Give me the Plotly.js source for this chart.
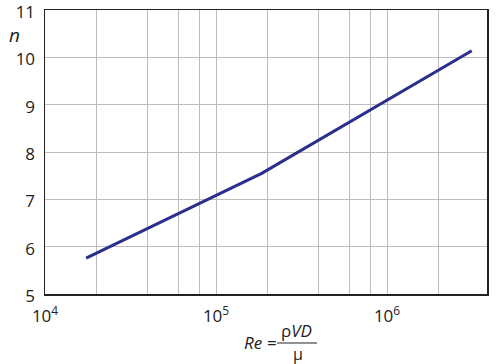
<!DOCTYPE html>
<html>
<head>
<meta charset="utf-8">
<script src="https://cdn.plot.ly/plotly-3.0.1.min.js"></script>
<style>html,body{margin:0;padding:0;background:#fff;}#chart{width:500px;height:364px;}</style>
</head>
<body>
<div id="chart"></div>
<script>
// Data
const reynolds = [1.74e4, 1.85e5, 3.13e6];
const nValues = [5.76, 7.55, 10.14];
const xGridVals = [1e4, 2e4, 4e4, 6e4, 8e4, 1e5, 2e5, 4e5, 6e5, 8e5, 1e6, 2e6];
const xGridText = ["10<sup>4</sup>", "", "", "", "", "10<sup>5</sup>", "", "", "", "", "10<sup>6</sup>", ""];
const yTickVals = [5, 6, 7, 8, 9, 10, 11];

const font = "Open Sans, Noto Sans, sans-serif";

const trace = {
  x: reynolds, y: nValues, type: 'scatter', mode: 'lines',
  line: {color: '#2B2E8C', width: 3}, hoverinfo: 'skip'
};

const layout = {
  width: 500, height: 364,
  margin: {l: 45, r: 13, t: 10, b: 70},
  paper_bgcolor: '#fff', plot_bgcolor: '#fff',
  showlegend: false,
  font: {family: font, size: 17, color: '#222'},
  xaxis: {
    type: 'log', range: [4, 4 + 442 / 171],
    tickmode: 'array', tickvals: xGridVals, ticktext: xGridText,
    showgrid: true, gridcolor: '#bdbdbd', gridwidth: 1,
    showline: true, mirror: true, linecolor: '#222', linewidth: 1.5,
    ticks: '', zeroline: false, ticklabelstandoff: 6, ticklabeloverflow: 'allow',
    tickfont: {size: 17, family: font, color: '#222'}
  },
  yaxis: {
    range: [5, 11], tickmode: 'array', tickvals: yTickVals,
    showgrid: true, gridcolor: '#bdbdbd', gridwidth: 1,
    showline: true, mirror: true, linecolor: '#222', linewidth: 1.5,
    ticks: '', zeroline: false, ticklabelstandoff: 5, ticklabelshift: 2, ticklabeloverflow: 'allow',
    tickfont: {size: 17, family: font, color: '#222'}
  },
  annotations: [
    {text: '<i>n</i>', xref: 'paper', yref: 'paper', x: -0.068, y: 0.912, showarrow: false,
     xanchor: 'center', yanchor: 'middle', font: {size: 19, family: font, color: '#222'}},
    {text: '<i>Re</i>', xref: 'paper', yref: 'paper', x: 0.471, y: -0.1725, showarrow: false,
     xanchor: 'center', yanchor: 'middle', font: {size: 17, family: font, color: '#222'}},
    {text: '=', xref: 'paper', yref: 'paper', x: 0.5145, y: -0.1725, showarrow: false,
     xanchor: 'center', yanchor: 'middle', font: {size: 17, family: font, color: '#222'}},
    {text: 'ρ<i>VD</i>', xref: 'paper', yref: 'paper', x: 0.568, y: -0.128, showarrow: false,
     xanchor: 'center', yanchor: 'middle', font: {size: 17, family: font, color: '#222'}},
    {text: 'μ', xref: 'paper', yref: 'paper', x: 0.572, y: -0.212, showarrow: false,
     xanchor: 'center', yanchor: 'middle', font: {size: 16, family: font, color: '#222'}}
  ],
  shapes: [
    {type: 'line', xref: 'paper', yref: 'paper', x0: 0.5250, x1: 0.6154, y0: -0.1725, y1: -0.1725,
     line: {color: '#222', width: 1}}
  ]
};

Plotly.newPlot('chart', [trace], layout, {displayModeBar: false, staticPlot: true});
</script>
</body>
</html>
